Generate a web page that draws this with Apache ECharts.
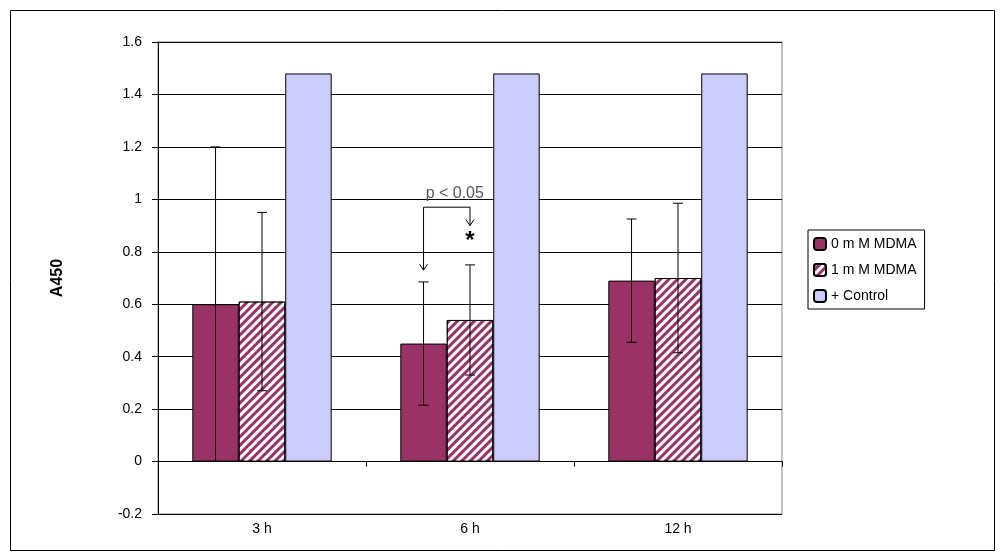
<!DOCTYPE html><html><head><meta charset="utf-8">
<script src="https://cdn.jsdelivr.net/npm/echarts@6/dist/echarts.min.js"></script>
<style>body{margin:0;background:#fff}#c{width:1000px;height:557px}</style></head><body><div id="c"></div>
<script>
const categories=['3 h','6 h','12 h'];
const seriesNames=['0 m M MDMA','1 m M MDMA','+ Control'];
const mdma0=[0.60,0.45,0.69];
const mdma1=[0.61,0.54,0.70];
const control=[1.48,1.48,1.48];
const err0=[0.60,0.235,0.235];
const err1=[0.34,0.21,0.285];
const F='Liberation Sans, Arial, sans-serif';
const chart=echarts.init(document.getElementById('c'));
const GAP=0.33;
function errSeries(vals,errs,idx){
  return {type:'custom',name:'err'+idx,silent:true,z:5,
    data:vals.map((v,i)=>[i,v-errs[i],v+errs[i]]),
    renderItem:(p,api)=>{
      const lo=api.coord([api.value(0),api.value(1)]),hi=api.coord([api.value(0),api.value(2)]);
      const bw=api.size([1,0])[0]*(1-GAP)/3;
      const x=lo[0]+(idx-1)*bw;
      const s={stroke:'#000',lineWidth:1};
      return {type:'group',children:[
        {type:'line',shape:{x1:x,y1:lo[1],x2:x,y2:hi[1]},style:s},
        {type:'line',shape:{x1:x-5,y1:lo[1],x2:x+5,y2:lo[1]},style:s},
        {type:'line',shape:{x1:x-5,y1:hi[1],x2:x+5,y2:hi[1]},style:s}]};
    }};
}
chart.setOption({
  animation:false,
  grid:{left:158,right:218,top:42,bottom:43,show:true,borderColor:'#808080',borderWidth:1},
  legend:{orient:'vertical',left:808,top:230,itemGap:12,itemWidth:12,itemHeight:12,
    data:seriesNames,textStyle:{fontFamily:F,fontSize:14,color:'#000',width:135},
    borderColor:'#000',borderWidth:1,padding:[7,8,6,5]},
  xAxis:{type:'category',data:categories,axisLine:{onZero:true,lineStyle:{color:'#000'}},
    axisTick:{show:true,alignWithLabel:false,length:5,lineStyle:{color:'#000'}},
    axisLabel:{fontFamily:F,fontSize:14,color:'#000',margin:8}},
  yAxis:{type:'value',min:-0.2,max:1.6,interval:0.2,name:'A450',nameLocation:'middle',nameGap:92,
    nameTextStyle:{fontFamily:F,fontSize:16,fontWeight:'bold',color:'#000'},
    axisLine:{show:true,lineStyle:{color:'#000'}},axisTick:{show:true,length:6,lineStyle:{color:'#000'}},
    splitLine:{lineStyle:{color:'#000'}},
    axisLabel:{fontFamily:F,fontSize:14,color:'#000',margin:16,formatter:v=>String(Math.round(v*10)/10)}},
  series:[
    {type:'bar',name:seriesNames[0],data:mdma0,barGap:'0%',barCategoryGap:'33%',
      itemStyle:{color:'#993366',borderColor:'#000',borderWidth:1}},
    {type:'bar',name:seriesNames[1],data:mdma1,
      itemStyle:{color:'#993366',borderColor:'#000',borderWidth:1,
        decal:{symbol:'rect',dashArrayX:[1,0],dashArrayY:[3,3],rotation:-Math.PI/4,color:'#ffffff',symbolSize:1}}},
    {type:'bar',name:seriesNames[2],data:control,itemStyle:{color:'#ccccff',borderColor:'#000',borderWidth:1}},
    errSeries(mdma0,err0,0),errSeries(mdma1,err1,1)
  ]
});
const p0=chart.convertToPixel({xAxisIndex:0,yAxisIndex:0},[1,0.97]);
const bw=624/3*(1-GAP)/3;
const xa=p0[0]-bw,xb=p0[0];
const yTop=p0[1];
const ya=chart.convertToPixel({yAxisIndex:0},0.73),yb=chart.convertToPixel({yAxisIndex:0},0.90);
const s={stroke:'#000',lineWidth:1,fill:'none'};
chart.setOption({graphic:[
  {type:'rect',left:8,top:8,shape:{width:984,height:540},style:{fill:'none',stroke:'#000',lineWidth:1},silent:true},
  {type:'polyline',shape:{points:[[xa,ya],[xa,yTop],[xb,yTop],[xb,yb]]},style:s},
  {type:'polyline',shape:{points:[[xa-4,ya-6],[xa,ya],[xa+4,ya-6]]},style:s},
  {type:'polyline',shape:{points:[[xb-4,yb-6],[xb,yb],[xb+4,yb-6]]},style:s},
  {type:'text',x:(xa+xb)/2+8,y:yTop-6,style:{text:'p < 0.05',font:'16px '+F,fill:'#555',align:'center',verticalAlign:'bottom'}},
  {type:'text',x:xb,y:chart.convertToPixel({yAxisIndex:0},0.84),style:{text:'*',font:'bold 24px '+F,fill:'#000',align:'center',verticalAlign:'middle'}}
]});
</script></body></html>
